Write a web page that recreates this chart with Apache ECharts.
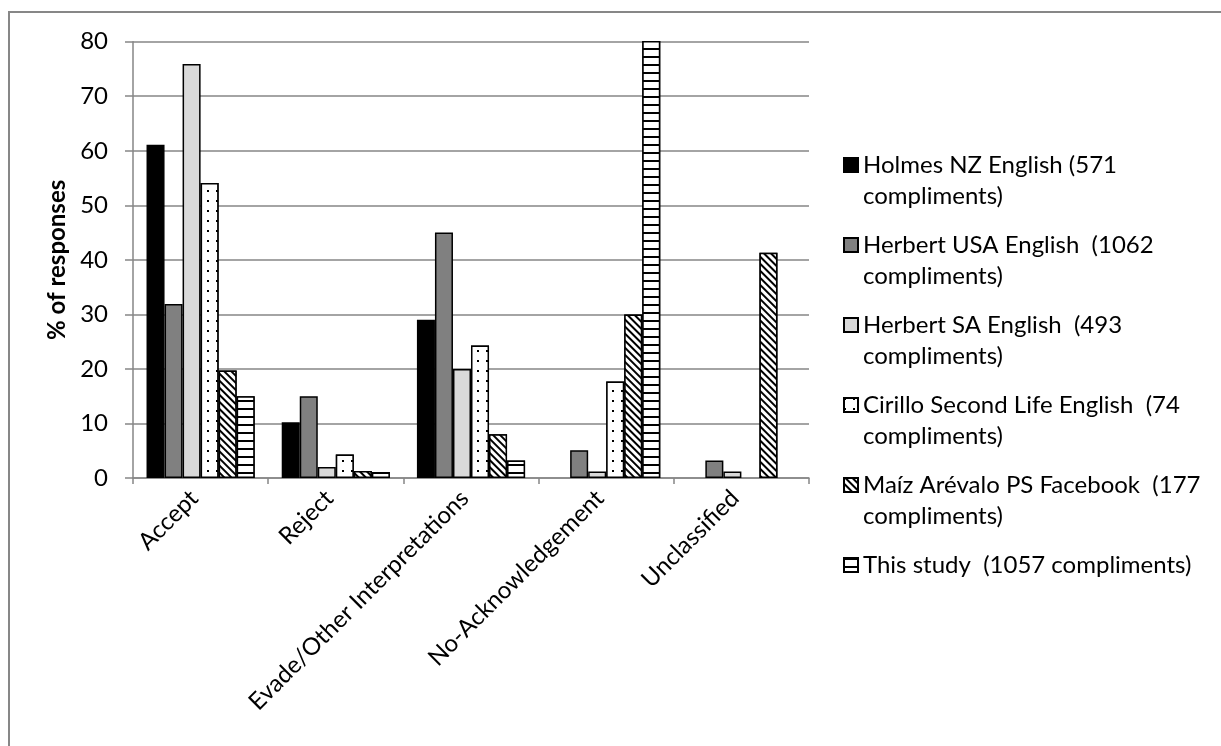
<!DOCTYPE html>
<html>
<head>
<meta charset="utf-8">
<script src="https://cdn.jsdelivr.net/npm/echarts@6/dist/echarts.min.js"></script>
<style>
html,body{margin:0;padding:0;background:#fff;}
#chart{width:1221px;height:746px;}
</style>
</head>
<body>
<div id="chart"></div>
<script>
var categories = ['Accept', 'Reject', 'Evade/Other Interpretations', 'No-Acknowledgement', 'Unclassified'];
var seriesNames = [
  'Holmes NZ English (571 compliments)',
  'Herbert USA English  (1062 compliments)',
  'Herbert SA English  (493 compliments)',
  'Cirillo Second Life English  (74 compliments)',
  'Maíz Arévalo PS Facebook  (177 compliments)',
  'This study  (1057 compliments)'
];
var legendLabels = [
  ['Holmes NZ English (571', 'compliments)'],
  ['Herbert USA English  (1062', 'compliments)'],
  ['Herbert SA English  (493', 'compliments)'],
  ['Cirillo Second Life English  (74', 'compliments)'],
  ['Maíz Arévalo PS Facebook  (177', 'compliments)'],
  ['This study  (1057 compliments)']
];
var holmes  = [61.1, 10.2, 29.0, 0, 0];
var usa     = [31.9, 15.0, 45.0, 5.1, 3.2];
var sa      = [75.9, 2.0, 20.0, 1.2, 1.2];
var cirillo = [54.1, 4.3, 24.3, 17.7, 0];
var maiz    = [19.7, 1.3, 8.0, 30.0, 41.3];
var study   = [15.0, 1.1, 3.2, 82, 0];
var yTicks = [0, 10, 20, 30, 40, 50, 60, 70, 80];

var values = [holmes, usa, sa, cirillo, maiz, study];
var FONT = 'Lato';

var styles = [
  {color: '#000000'},
  {color: '#808080'},
  {color: '#d9d9d9'},
  {color: '#ffffff', decal: {symbol: 'rect', color: '#000000', backgroundColor: '#ffffff', dashArrayX: [1.6, 6.4], dashArrayY: [1.6, 7.8], symbolSize: 1, rotation: 0}},
  {color: '#ffffff', decal: {symbol: 'rect', color: '#000000', backgroundColor: '#ffffff', dashArrayX: [1.5, 3], dashArrayY: [6, 0], symbolSize: 1, rotation: -Math.PI / 4}},
  {color: '#ffffff', decal: {symbol: 'rect', color: '#000000', backgroundColor: '#ffffff', dashArrayX: [6, 0], dashArrayY: [2, 5.8], symbolSize: 1, rotation: 0}}
];

var series = seriesNames.map(function (n, i) {
  var is = {color: styles[i].color, borderColor: '#000', borderWidth: 1.5};
  if (styles[i].decal) is.decal = styles[i].decal;
  return {
    name: n,
    type: 'bar',
    data: values[i].map(function (v) {
      return v === 0 ? {value: v, itemStyle: {borderWidth: 0}} : v;
    }),
    barGap: '0%',
    barCategoryGap: '20%',
    clip: true,
    itemStyle: is,
    emphasis: {disabled: true}
  };
});

var chart = echarts.init(document.getElementById('chart'));
chart.setOption({
  animation: false,
  backgroundColor: '#ffffff',
  textStyle: {fontFamily: FONT},
  grid: {left: 133, right: 412, top: 41.7, bottom: 268, containLabel: false},
  legend: {
    orient: 'vertical',
    left: 843,
    top: 118.5,
    padding: 0,
    icon: 'rect',
    itemWidth: 14,
    itemHeight: 14,
    itemGap: -13,
    selectedMode: false,
    data: seriesNames,
    formatter: function (name) {
      var l = legendLabels[seriesNames.indexOf(name)];
      return l.length === 2 ? ' \n' + l[0] + '\n' + l[1] : ' \n' + l[0] + '\n ';
    },
    textStyle: {fontFamily: FONT, fontSize: 24, color: '#000', lineHeight: 31}
  },
  xAxis: {
    type: 'category',
    data: categories,
    axisLine: {lineStyle: {color: '#868686', width: 1.5}},
    axisTick: {show: true, length: 6, lineStyle: {color: '#868686', width: 1.5}},
    axisLabel: {rotate: 45, margin: 10, padding: [0, 9, 0, 0], fontFamily: FONT, fontSize: 24, color: '#000', interval: 0}
  },
  yAxis: {
    type: 'value',
    min: 0,
    max: 80,
    interval: 10,
    name: '% of responses',
    nameLocation: 'middle',
    nameGap: 62,
    nameTextStyle: {fontFamily: FONT, fontSize: 24, fontWeight: 'bold', color: '#000'},
    axisLine: {show: true, lineStyle: {color: '#868686', width: 1.5}},
    axisTick: {show: true, length: 8, inside: false, lineStyle: {color: '#868686', width: 1.5}},
    axisLabel: {margin: 25, fontFamily: FONT, fontSize: 24, color: '#000',
      formatter: function (v) { return yTicks.indexOf(v) >= 0 ? String(v) : ''; }},
    splitLine: {show: true, lineStyle: {color: '#868686', width: 1.5}}
  },
  graphic: [{
    type: 'rect', silent: true, z: -1,
    shape: {x: 9, y: 12, width: 1400, height: 900},
    style: {fill: 'none', stroke: '#878787', lineWidth: 2}
  }],
  series: series
});
</script>
</body>
</html>
